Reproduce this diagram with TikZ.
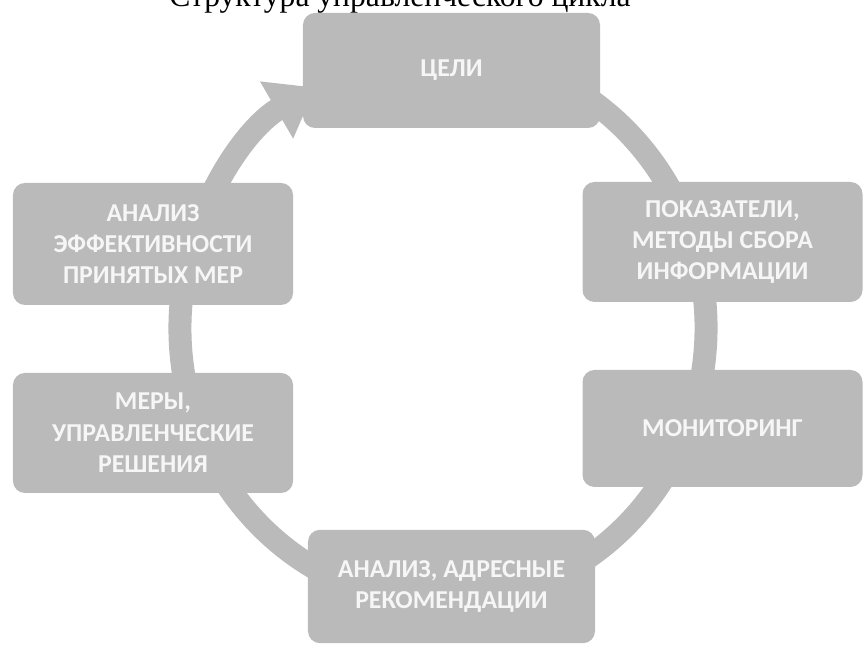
\documentclass[tikz,border=0pt]{standalone}
\usepackage{fontspec}
\setmainfont{Liberation Serif}
\newfontfamily\boxfont{Carlito}
\usetikzlibrary{arrows.meta}

\definecolor{cyclegray}{RGB}{186,186,186}
\definecolor{labelwhite}{RGB}{246,246,246}

\tikzset{
	stagebox/.style={rectangle, rounded corners=0.36cm, fill=cyclegray, text=labelwhite,
		minimum width=8.4cm, minimum height=3.6cm, align=center,
		font=\boxfont\bfseries\fontsize{22}{26.8}\selectfont},
	cyclering/.style={draw=cyclegray, line width=0.69cm,
		-{Triangle[width=1.89cm, length=1.35cm]}}
}

\begin{document}
\begin{tikzpicture}[x=0.03cm, y=0.03cm]
	\useasboundingbox (0,0) rectangle (865,646);
	%% title, cut off by the upper edge
	\node[anchor=base, font=\fontsize{27}{30}\selectfont] (title) at (400,639) {Структура управленческого цикла};
	%% ring behind the boxes
	\coordinate (hub) at (443,318);
	\draw[cyclering] (hub) ++(80:7.89cm and 8.25cm) arc[start angle=80, end angle=-241, x radius=7.89cm, y radius=8.25cm];
	%% stages
	\node[stagebox, minimum width=8.91cm, minimum height=3.45cm] (goals) at (451.5,575.5) {ЦЕЛИ};
	\node[stagebox] (indicators) at (722.5,404) {ПОКАЗАТЕЛИ,\\МЕТОДЫ СБОРА\\ИНФОРМАЦИИ};
	\node[stagebox, minimum height=3.51cm] (monitoring) at (722.5,217.5) {МОНИТОРИНГ};
	\node[stagebox, minimum width=8.61cm, minimum height=3.4cm] (advice) at (451.5,59.5) {АНАЛИЗ, АДРЕСНЫЕ\\РЕКОМЕНДАЦИИ};
	\node[stagebox] (measures) at (153,213) {МЕРЫ,\\УПРАВЛЕНЧЕСКИЕ\\РЕШЕНИЯ};
	\node[stagebox, minimum height=3.66cm] (review) at (153,402) {АНАЛИЗ\\ЭФФЕКТИВНОСТИ\\ПРИНЯТЫХ МЕР};
\end{tikzpicture}
\end{document}
